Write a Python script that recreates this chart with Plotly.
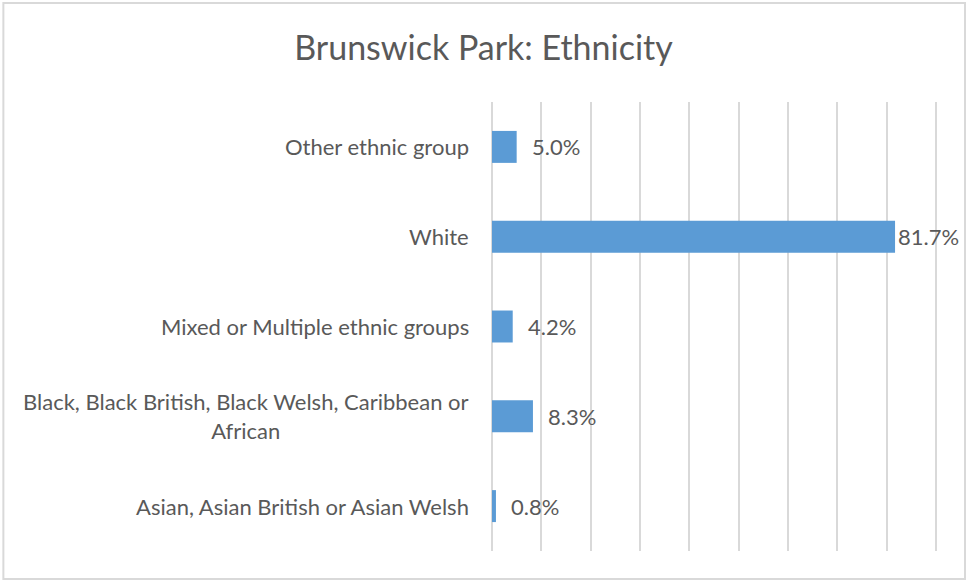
import plotly.graph_objects as go

# Ethnic group shares for Brunswick Park (bottom to top)
categories = [
    "Asian, Asian British or Asian Welsh",
    "Black, Black British, Black Welsh, Caribbean or<br>African",
    "Mixed or Multiple ethnic groups",
    "White",
    "Other ethnic group",
]
shares = [0.008, 0.083, 0.042, 0.817, 0.050]
value_labels = ["0.8%", "8.3%", "4.2%", "81.7%", "5.0%"]
x_ticks = [0.0, 0.1, 0.2, 0.3, 0.4, 0.5, 0.6, 0.7, 0.8, 0.9]

W, H = 967, 581
# pixel positions of the first and last gridline, and of the plot's top/bottom
X0_PX, X1_PX = 492.3, 936.0
T, B = 102, 30
PAD_PX = 3.0  # keep the edge gridlines just inside the plot area
px_per_unit = (X1_PX - X0_PX) / (x_ticks[-1] - x_ticks[0])
pad = PAD_PX / px_per_unit
L = X0_PX - PAD_PX
R = W - (X1_PX + PAD_PX)
PW, PH = W - L - R, H - T - B

FONT = "Lato"
TXT = "#595959"
GRID = "#D9D9D9"
BAR = "#5B9BD5"

ypos = list(range(len(categories)))

fig = go.Figure(
    go.Bar(
        x=shares,
        y=ypos,
        orientation="h",
        marker=dict(color=BAR, line=dict(width=0)),
        hoverinfo="skip",
    )
)

# category labels to the left of the plot area, lines centred
for yi, name in zip(ypos, categories):
    fig.add_annotation(
        x=(471 - L) / PW, xref="paper", y=yi, yref="y",
        text=name, showarrow=False, xanchor="right", align="center",
        font=dict(family=FONT, size=22, color=TXT),
    )

# value labels at the end of each bar
for yi, v, lab in zip(ypos, shares, value_labels):
    shift = 1 if v > 0.7 else 13
    fig.add_annotation(
        x=v, xref="x", y=yi, yref="y", text=lab, showarrow=False,
        xanchor="left", xshift=shift,
        font=dict(family=FONT, size=22, color=TXT),
    )

# outer chart border
fig.add_shape(
    type="rect", xref="paper", yref="paper",
    x0=(4 - L) / PW, x1=(965 - L) / PW,
    y0=(H - 579 - B) / PH, y1=(H - 3 - B) / PH,
    line=dict(color=GRID, width=2), fillcolor="rgba(0,0,0,0)", layer="below",
)

fig.update_layout(
    width=W, height=H,
    margin=dict(l=L, r=R, t=T, b=B, pad=0),
    paper_bgcolor="white", plot_bgcolor="white",
    bargap=0.644,
    showlegend=False,
    title=dict(
        text="Brunswick Park: Ethnicity",
        x=0.5, xanchor="center", xref="container",
        y=1 - 48 / H, yanchor="middle",
        font=dict(family=FONT, size=34, color=TXT),
    ),
    xaxis=dict(
        range=[x_ticks[0] - pad, x_ticks[-1] + pad],
        tickvals=x_ticks, showticklabels=False, ticks="",
        showgrid=True, gridcolor=GRID, gridwidth=2,
        zeroline=False, showline=False, fixedrange=True,
    ),
    yaxis=dict(
        range=[-0.5, len(categories) - 0.5],
        showticklabels=False, ticks="", showgrid=False,
        zeroline=False, showline=False, fixedrange=True,
    ),
)

fig.write_html("out.html")
